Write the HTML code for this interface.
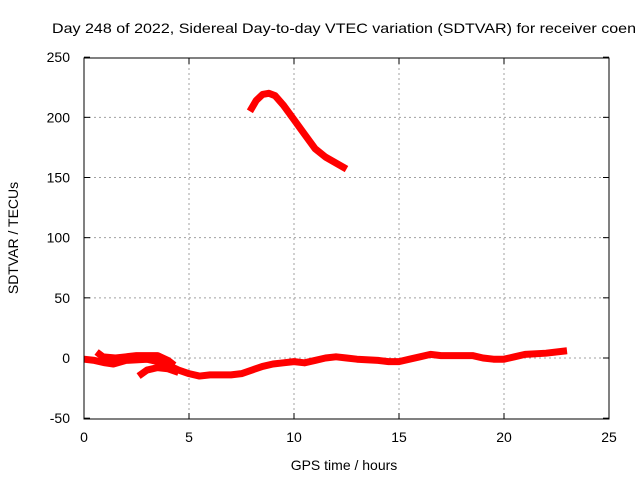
<!DOCTYPE html>
<html><head><meta charset="utf-8"><style>
body{margin:0;background:#fff}
svg text{font-family:"Liberation Sans",sans-serif;font-size:14px;fill:#000}
</style></head><body>
<svg width="640" height="480" xmlns="http://www.w3.org/2000/svg">
<rect width="640" height="480" fill="#fff"/>
<text x="52" y="33" textLength="584" lengthAdjust="spacingAndGlyphs">Day 248 of 2022, Sidereal Day-to-day VTEC variation (SDTVAR) for receiver coen</text>
<g id="grid"></g>
<g id="ticks"></g>
<g id="series"></g>
<rect x="84" y="58" width="525" height="361" fill="none" stroke="#000"/>
<text x="344" y="470" text-anchor="middle">GPS time / hours</text>
<text transform="translate(18,238) rotate(-90)" text-anchor="middle">SDTVAR / TECUs</text>
</svg>
<script>
const xTicks=[0,5,10,15,20,25];
const yTicks=[-50,0,50,100,150,200,250];
const upperX=[7.9,8.2,8.5,8.8,9.1,9.5,10,10.5,11,11.5,12,12.5];
const upperY=[205,214,219,220,218,210,198,186,174,167,162,157];
const mainX=[0,0.5,1,1.4,2,3,3.5,4,4.5,5,5.5,6,7,7.5,8,8.5,9,9.5,10,10.5,11,11.5,12,12.5,13,14,14.5,15,15.5,16,16.5,17,18,18.5,19,19.5,20,20.5,21,22,23];
const mainY=[-1,-2,-4,-5,-2,-1,-3,-6,-10,-13,-15,-14,-14,-13,-10,-7,-5,-4,-3,-4,-2,0,1,0,-1,-2,-3,-3,-1,1,3,2,2,2,0,-1,-1,1,3,4,6];
const branchX=[0.6,0.9,1.5,2,2.5,3,3.5,4,4.3];
const branchY=[5,1,0,1,2,2,2,-2,-6];
const lowX=[2.6,3,3.5,4,4.5];
const lowY=[-15,-10,-8,-9,-12];
const NS="http://www.w3.org/2000/svg";
const xs=v=>84+v*525/25, ys=v=>358-v*361/300;
const grid=document.getElementById('grid'),ticks=document.getElementById('ticks'),ser=document.getElementById('series');
function mk(t,a,p){const e=document.createElementNS(NS,t);for(const k in a)e.setAttribute(k,a[k]);p.appendChild(e);return e;}
xTicks.forEach(v=>{const x=xs(v);
 if(v>0&&v<25){const g=mk('line',{x1:x,x2:x,y1:58,y2:419,stroke:'#a0a0a0','stroke-dasharray':'2,3'},grid);
 
 }
 mk('line',{x1:x,x2:x,y1:419,y2:413,stroke:'#000'},ticks);mk('line',{x1:x,x2:x,y1:58,y2:64,stroke:'#000'},ticks);
 const t=mk('text',{x:x,y:442,'text-anchor':'middle'},ticks);t.textContent=v;
 
 });
yTicks.forEach(v=>{const y=ys(v);
 if(v>-50&&v<250){const g=mk('line',{x1:84,x2:609,y1:y,y2:y,stroke:'#a0a0a0','stroke-dasharray':'2,3'},grid);
 
 }
 mk('line',{x1:84,x2:90,y1:y,y2:y,stroke:'#000'},ticks);mk('line',{x1:609,x2:603,y1:y,y2:y,stroke:'#000'},ticks);
 const t=mk('text',{x:70,y:y+5,'text-anchor':'end'},ticks);t.textContent=v;
 
 });
function line(X,Y,name){const p=mk('polyline',{points:X.map((v,i)=>xs(v)+','+ys(Y[i])).join(' '),fill:'none',stroke:'#ff0000','stroke-width':7,'stroke-linejoin':'round'},ser);
 
 }
line(upperX,upperY,'upper-trace');
line(mainX,mainY,'main-trace');
line(branchX,branchY,'branch-trace');
line(lowX,lowY,'low-trace');
</script>
</body></html>
